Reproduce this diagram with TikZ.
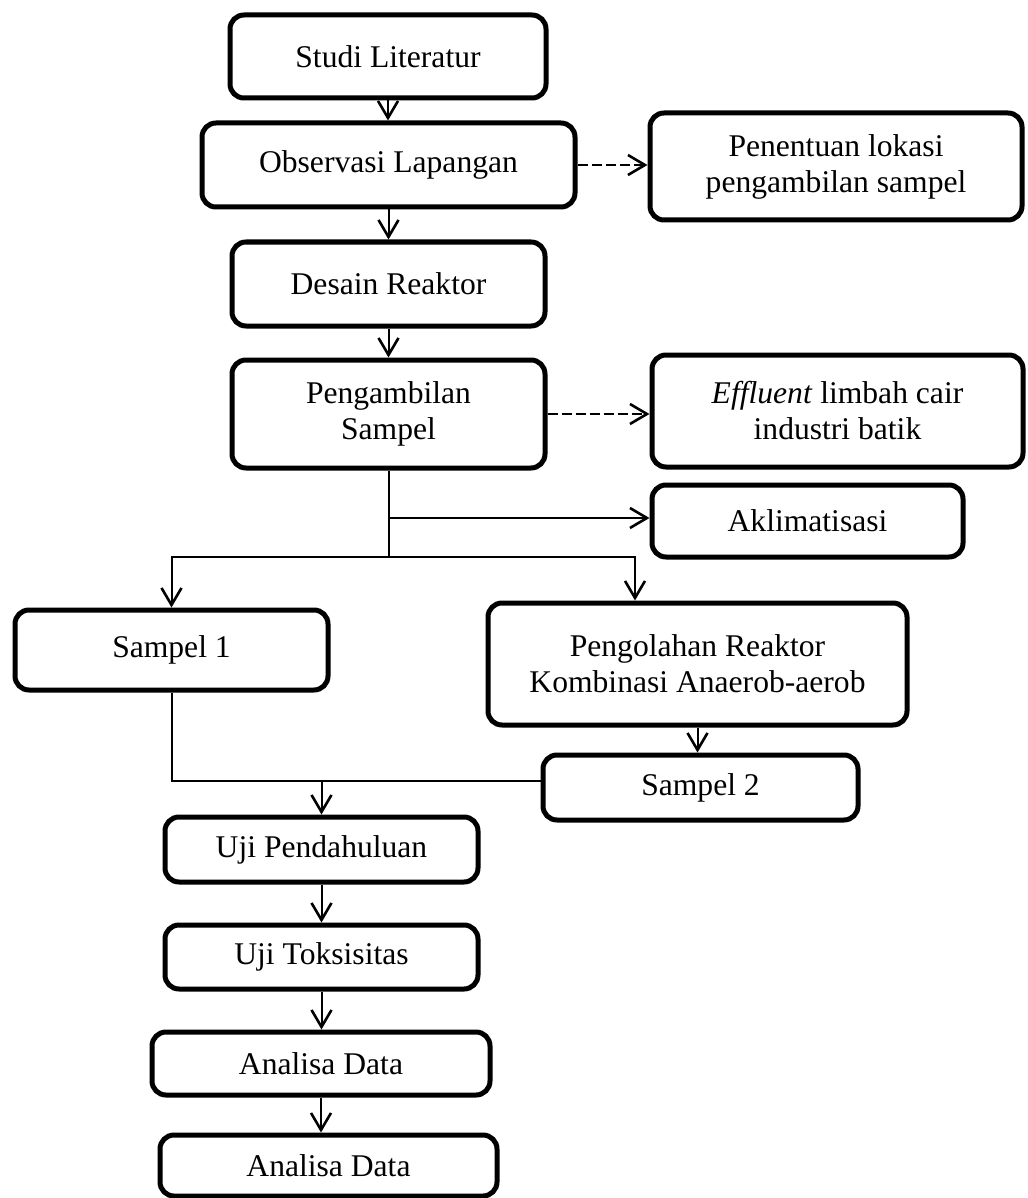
\documentclass[tikz,border=0pt]{standalone}
\usepackage{fontspec}
\setmainfont{Liberation Serif}
\usetikzlibrary{arrows.meta,positioning}

\begin{document}
\begin{tikzpicture}[
  x=0.5pt, y=-0.5pt,
  box/.style={rectangle, rounded corners=7pt, draw=black, line width=2.5pt, fill=white,
              align=center, inner sep=0pt, font=\fontsize{15.8}{18}\selectfont},
  arr/.style={-{Straight Barb[length=8.5pt,width=10pt,line width=1.3pt]}, line width=1pt},
  darr/.style={arr, line width=1.4pt, dash pattern=on 5pt off 2pt},
  conn/.style={line width=1pt}
]
\useasboundingbox (0,0) rectangle (1027,1198);
\node[box, minimum width=158pt, minimum height=41.5pt] (studi) at (388,56.5) {Studi Literatur};
\node[box, minimum width=186.5pt, minimum height=42pt] (obs) at (388.5,165) {Observasi Lapangan};
\node[box, minimum width=186pt, minimum height=53.5pt] (lokasi) at (836,166.5) {Penentuan lokasi\\ pengambilan sampel};
\node[box, minimum width=156.5pt, minimum height=42pt] (desain) at (388.5,284) {Desain Reaktor};
\node[box, minimum width=156.5pt, minimum height=54pt] (ambil) at (388.5,414) {Pengambilan\\ Sampel};
\node[box, minimum width=185.5pt, minimum height=56pt] (effluent) at (837.5,411) {\textit{Effluent} limbah cair\\ industri batik};
\node[box, minimum width=155.5pt, minimum height=36pt] (aklim) at (807.5,521) {Aklimatisasi};
\node[box, minimum width=156.5pt, minimum height=40pt] (sampel1) at (171.5,650) {Sampel 1};
\node[box, minimum width=209.5pt, minimum height=61pt] (olah) at (697.5,664) {Pengolahan Reaktor\\ Kombinasi Anaerob-aerob};
\node[box, minimum width=157.5pt, minimum height=32.5pt] (sampel2) at (700.5,787.5) {Sampel 2};
\node[box, minimum width=156.5pt, minimum height=32.5pt] (ujipend) at (321.5,849.5) {Uji Pendahuluan};
\node[box, minimum width=156.5pt, minimum height=32pt] (ujitoks) at (321.5,957) {Uji Toksisitas};
\node[box, minimum width=169pt, minimum height=31.5pt] (data1) at (321,1063.5) {Analisa Data};
\node[box, minimum width=168.5pt, minimum height=30.5pt] (data2) at (328.5,1165.5) {Analisa Data};
\coordinate (cabang) at (388.5,557);
\coordinate (kanan) at (388.5,518);
\coordinate (gabung) at (171.5,781);
\draw[arr] (studi) -- (studi.south |- obs.north);
\draw[arr] (obs.south) -- (obs.south |- desain.north);
\draw[arr] (desain.south) -- (desain.south |- ambil.north);
\draw[darr] (obs.east) -- (obs.east -| lokasi.west);
\draw[darr] (ambil.east) -- (ambil.east -| effluent.west);
\draw[conn] (ambil.south) -- (cabang);
\draw[arr] (kanan) -- (kanan -| aklim.west);
\draw[arr] (cabang) -| (sampel1.north);
\draw[arr] (cabang) -| ([xshift=-31.25pt]olah.north);
\draw[arr] (olah.south) -- (olah.south |- sampel2.north);
\draw[conn] (sampel1.south) -- (gabung) -- (gabung -| sampel2.west);
\draw[arr] (ujipend.north |- gabung) -- (ujipend.north);
\draw[arr] (ujipend) -- (ujitoks);
\draw[arr] (ujitoks.south) -- (ujitoks.south |- data1.north);
\draw[arr] (data1.south) -- (data1.south |- data2.north);
\end{tikzpicture}
\end{document}
